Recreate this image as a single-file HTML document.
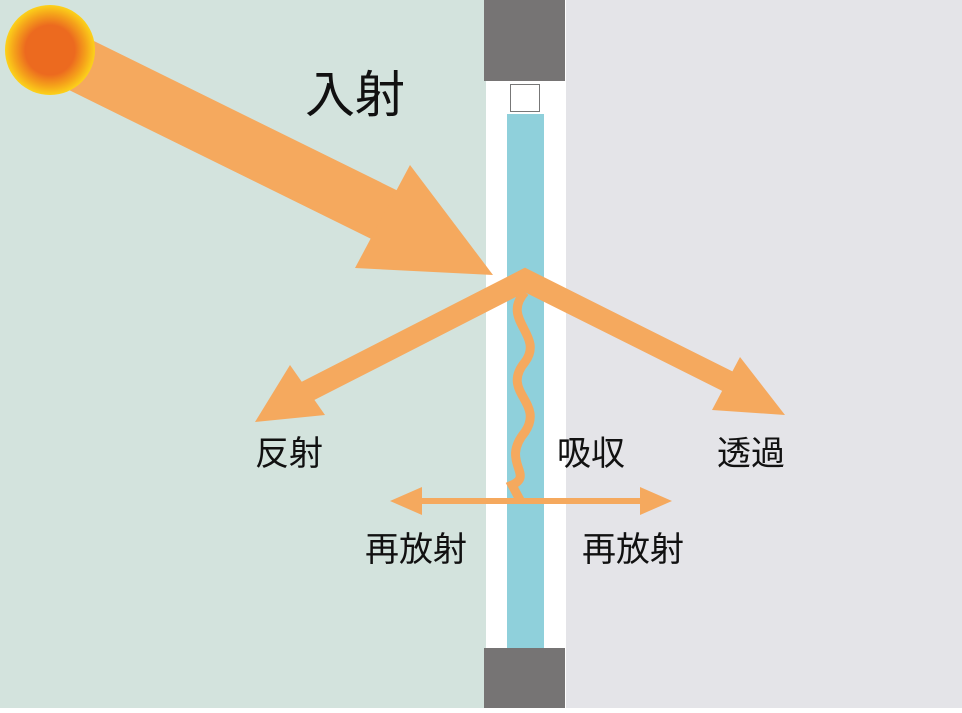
<!DOCTYPE html>
<html><head><meta charset="utf-8"><style>
body{margin:0;width:962px;height:708px;overflow:hidden}
text{font-family:"Liberation Sans","Noto Sans CJK JP",sans-serif;fill:#111}
</style></head><body>
<svg width="962" height="708" viewBox="0 0 962 708" xmlns="http://www.w3.org/2000/svg">
<defs><radialGradient id="s"><stop offset="0.55" stop-color="#ec6a1f"/><stop offset="0.8" stop-color="#f5a21a"/><stop offset="1" stop-color="#fcd21a"/></radialGradient></defs>
<rect x="0" y="0" width="486" height="708" fill="#d3e3dd"/>
<rect x="566" y="0" width="396" height="708" fill="#e4e4e8"/>
<rect x="486" y="0" width="80" height="708" fill="#fff"/>
<rect x="484" y="0" width="81" height="81" fill="#767474"/>
<rect x="484" y="648" width="81" height="60" fill="#767474"/>
<rect x="507" y="114" width="37" height="534" fill="#8fd0db"/>
<rect x="510.5" y="84.5" width="29" height="27" fill="#fff" stroke="#777" stroke-width="1"/>
<g fill="#f5a95e" stroke="none">
<line x1="50" y1="50" x2="395" y2="220" stroke="#f5a95e" stroke-width="55"/>
<polygon points="355,268 410,165 493,275"/>
<polyline points="300,395 525,280 745,390" fill="none" stroke="#f5a95e" stroke-width="22" stroke-linejoin="miter"/>
<polygon points="255,422 290,365 325,415"/>
<polygon points="785,415 740,357 712,410"/>
<path d="M525,292 C500,320 545,335 525,362 C500,392 545,402 525,432 C500,462 535,475 512,485 L520,500" fill="none" stroke="#f5a95e" stroke-width="9"/>
<line x1="410" y1="501" x2="650" y2="501" stroke="#f5a95e" stroke-width="6"/>
<polygon points="390,501 422,487 422,515"/>
<polygon points="672,501 640,487 640,515"/>
</g>
<circle cx="50" cy="50" r="45" fill="url(#s)"/>
<text x="305" y="112" font-size="50">入射</text>
<text x="255" y="465" font-size="34">反射</text>
<text x="557" y="465" font-size="34">吸収</text>
<text x="717" y="465" font-size="34">透過</text>
<text x="365" y="561" font-size="34">再放射</text>
<text x="582" y="561" font-size="34">再放射</text>
</svg>
</body></html>
